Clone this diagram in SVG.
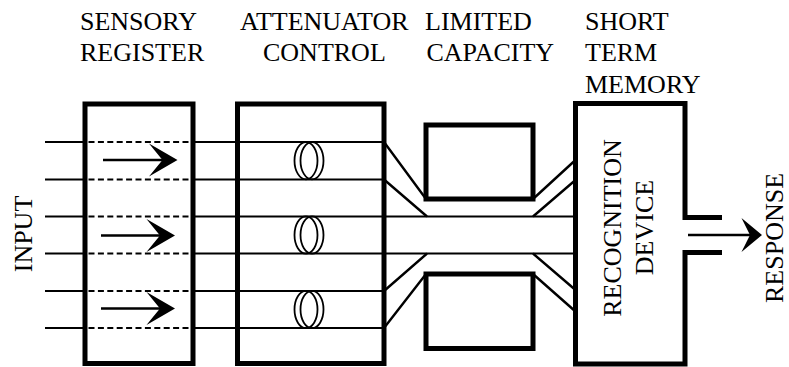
<svg xmlns="http://www.w3.org/2000/svg" width="789" height="367" viewBox="0 0 789 367">
  <style>
    .box { fill: none; stroke: #000; stroke-width: 5; stroke-linejoin: miter; }
    .wire { fill: none; stroke: #000; stroke-width: 2; }
    .slant { fill: none; stroke: #000; stroke-width: 2.4; }
    .dash { fill: none; stroke: #000; stroke-width: 2; stroke-dasharray: 6 3.4; }
    .shaft { fill: none; stroke: #000; stroke-width: 2.4; }
    .lens { fill: none; stroke: #000; stroke-width: 1.8; }
    .head { fill: #000; stroke: none; }
    .lbl { font-family: 'Liberation Serif', 'DejaVu Serif', serif; font-size: 26px; fill: #000; }
    .mid { text-anchor: middle; }
  </style>
  <defs>
    <!-- concave arrowhead, tip at the origin, pointing right -->
    <path id="head-in" class="head" d="M0,0 L-28.5,-16.5 Q-20,-6 -15,0 Q-20,6 -28.5,16.5 Z"/>
    <path id="head-out" class="head" d="M0,0 L-20.5,-17 Q-15,-6 -12,0 Q-15,6 -20.5,17 Z"/>
    <!-- attenuator symbol: two overlapping ellipses spanning one channel -->
    <g id="lens">
      <ellipse class="lens" cx="-3" cy="0" rx="11.5" ry="18.6"/>
      <ellipse class="lens" cx="3" cy="0" rx="11.5" ry="18.6"/>
    </g>
  </defs>

  <!-- header labels -->
  <g id="labels" font-family="Liberation Serif, DejaVu Serif, serif">
    <text class="lbl" x="80" y="29.5">SENSORY</text>
    <text class="lbl" x="80" y="61">REGISTER</text>
    <text class="lbl" x="240" y="29.5">ATTENUATOR</text>
    <text class="lbl" x="263" y="61">CONTROL</text>
    <text class="lbl" x="425" y="29.5">LIMITED</text>
    <text class="lbl" x="426.5" y="61">CAPACITY</text>
    <text class="lbl" x="585" y="29.5">SHORT</text>
    <text class="lbl" x="585" y="61">TERM</text>
    <text class="lbl" x="585" y="92.5">MEMORY</text>
    <text class="lbl mid" transform="translate(31.5,234) rotate(-90)">INPUT</text>
    <text class="lbl mid" transform="translate(783,238) rotate(-90)">RESPONSE</text>
  </g>

  <!-- channels, converging paths and arrows -->
  <g id="connectors">
    <!-- input channels up to the sensory register -->
    <path class="wire" d="M45,142 H86 M45,179.5 H86 M45,216.5 H86 M45,253.5 H86 M45,291 H86 M45,328 H86"/>
    <!-- dashed paths inside the sensory register -->
    <path class="dash" d="M88.5,142 H191 M88.5,179.5 H191 M88.5,216.5 H191 M88.5,253.5 H191 M88.5,291 H191 M88.5,328 H191"/>
    <!-- channels through the attenuator -->
    <path class="wire" d="M192,142 H385 M192,179.5 H385 M192,216.5 H385 M192,253.5 H385 M192,291 H385 M192,328 H385"/>
    <!-- single central channel into short term memory -->
    <path class="wire" d="M384,216.5 H576 M384,253.5 H576"/>
    <!-- funnel into the limited capacity channel -->
    <path class="slant" d="M384,142 L426,199 M384,179.5 L427,216.5 M384,291 L427,253.5 M384,328 L426,274"/>
    <!-- fan out towards the recognition device -->
    <path class="slant" d="M533,199 L575.5,160 M533,216.5 L575.5,180 M533,253.5 L575.5,290 M533,274 L575.5,311.5"/>
    <!-- sensory register arrows -->
    <path class="shaft" d="M103,160 H165 M101,235.5 H162 M101,308.5 H162"/>
    <use href="#head-in" x="177.5" y="160"/>
    <use href="#head-in" x="175" y="235.5"/>
    <use href="#head-in" x="175" y="308.5"/>
    <!-- response arrow -->
    <path class="shaft" d="M688,235 H752"/>
    <use href="#head-out" x="762" y="235"/>
  </g>

  <g id="sensory-register">
    <rect class="box" x="85" y="104" width="108" height="259.5"/>
  </g>

  <g id="attenuator-control">
    <rect class="box" x="237.5" y="104" width="146.5" height="259.5"/>
    <use href="#lens" x="309" y="160.7"/>
    <use href="#lens" x="309" y="235"/>
    <use href="#lens" x="309" y="309.5"/>
  </g>

  <g id="limited-capacity">
    <rect class="box" x="426" y="125" width="107" height="74"/>
    <rect class="box" x="426" y="274" width="107" height="74.5"/>
  </g>

  <g id="short-term-memory" font-family="Liberation Serif, DejaVu Serif, serif">
    <path class="box" d="M722,217.5 H685 V103.5 H575.5 V364 H685 V252.5 H722"/>
    <text class="lbl mid" transform="translate(621,228) rotate(-90)">RECOGNITION</text>
    <text class="lbl mid" transform="translate(652.5,227.5) rotate(-90)">DEVICE</text>
  </g>
</svg>
